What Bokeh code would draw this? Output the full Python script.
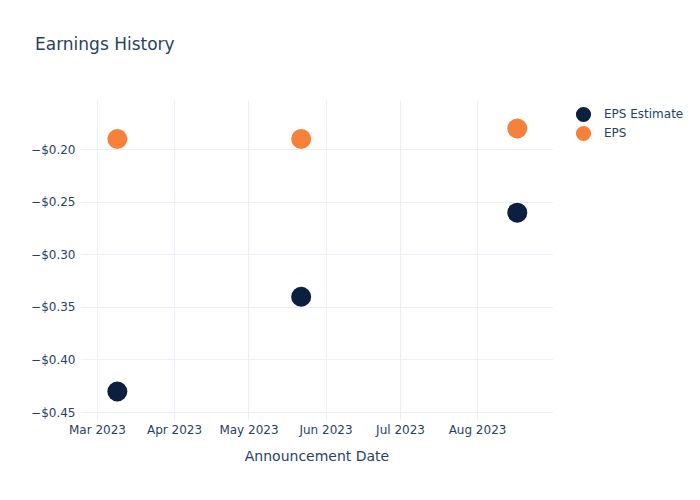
import pandas as pd
from bokeh.plotting import figure
from bokeh.layouts import row, column
from bokeh.models import (Range1d, DatetimeTickFormatter, MonthsTicker, FixedTicker, Div,
                          CustomJSTickFormatter, Legend, LegendItem, ColumnDataSource)
from bokeh.embed import file_html
from bokeh.resources import INLINE

# ---- data ----
dates = ["2023-03-09", "2023-05-22", "2023-08-17"]
eps_estimate = [-0.43, -0.34, -0.26]
eps_actual = [-0.19, -0.19, -0.18]
y_ticks = [-0.45, -0.40, -0.35, -0.30, -0.25, -0.20]
series_names = ["EPS Estimate", "EPS"]
title_text = "Earnings History"
x_label = "Announcement Date"

TEXT = "#2a3f5f"
GRID = "#ebf0f8"
NAVY = "#0d1f3e"
ORANGE = "#f7813a"
FONT = "DejaVu Sans"

x = pd.to_datetime(dates)
src = ColumnDataSource(dict(x=x, est=eps_estimate, act=eps_actual))

p = figure(width=553, height=430, output_backend="svg", toolbar_location=None,
           x_axis_type="datetime",
           x_range=Range1d(pd.Timestamp("2023-02-22 04:00"), pd.Timestamp("2023-08-31 14:00")),
           y_range=Range1d(-0.4576, -0.1534),
           min_border_left=80, min_border_right=0, min_border_top=30, min_border_bottom=80)
p.outline_line_color = None
p.background_fill_color = "white"
p.border_fill_color = "white"

r1 = p.scatter("x", "est", source=src, size=20, color=NAVY, line_color=None)
r2 = p.scatter("x", "act", source=src, size=20, color=ORANGE, line_color=None)

# axes
p.xaxis.ticker = MonthsTicker(months=list(range(12)))
p.xaxis.formatter = DatetimeTickFormatter(months="%b %Y", days="%b %Y")
p.yaxis.ticker = FixedTicker(ticks=y_ticks)
p.yaxis.formatter = CustomJSTickFormatter(code="""
    return (tick < 0 ? "\\u2212" : "") + "$" + Math.abs(tick).toFixed(2);
""")
for ax in (p.xaxis[0], p.yaxis[0]):
    ax.axis_line_color = None
    ax.major_tick_line_color = None
    ax.minor_tick_line_color = None
    ax.major_tick_out = 0
    ax.major_tick_in = 0
    ax.minor_tick_out = 0
    ax.major_label_text_font = FONT
    ax.major_label_text_font_size = "12px"
    ax.major_label_text_color = TEXT
    ax.axis_label_text_font = FONT
    ax.axis_label_text_color = TEXT
p.xaxis.major_label_standoff = 2
p.yaxis.major_label_standoff = 5
p.xaxis.axis_label = x_label
p.xaxis.axis_label_text_font_size = "14px"
p.xaxis.axis_label_text_font_style = "normal"
p.xaxis.axis_label_standoff = 8

p.xgrid.grid_line_color = GRID
p.ygrid.grid_line_color = GRID
p.xgrid.grid_line_width = 1
p.ygrid.grid_line_width = 1

# legend panel (separate figure on the right); its ranges keep the proxy points out of view
lf = figure(width=147, height=430, output_backend="svg", toolbar_location=None,
            x_range=Range1d(0, 1), y_range=Range1d(0, 1),
            x_axis_location=None, y_axis_location=None,
            min_border_left=0, min_border_right=0, min_border_top=30, min_border_bottom=80)
lf.outline_line_color = None
lf.xgrid.visible = False
lf.ygrid.visible = False
l1 = lf.scatter("x", "est", source=src, size=20, color=NAVY, line_color=None)
l2 = lf.scatter("x", "act", source=src, size=20, color=ORANGE, line_color=None)

common = dict(orientation="vertical", glyph_width=38, glyph_height=38, label_standoff=2,
              padding=0, margin=0, border_line_alpha=0, background_fill_alpha=0,
              label_text_font=FONT, label_text_font_size="12px", label_text_color=TEXT)
leg1 = Legend(items=[LegendItem(label=series_names[0], renderers=[l1])],
              location=(11, 287), **common)
leg2 = Legend(items=[LegendItem(label=series_names[1], renderers=[l2])],
              location=(11, 268), **common)
lf.add_layout(leg1, "center")
lf.add_layout(leg2, "center")

# title
title = Div(text=title_text, width=700, height=70, margin=(0, 0, 0, 0),
            styles={"font-family": FONT, "font-size": "17px", "color": TEXT,
                    "padding-left": "35px", "padding-top": "34px", "line-height": "20px",
                    "white-space": "nowrap", "box-sizing": "border-box"})

layout = column(title, row(p, lf, spacing=0), spacing=0)
open("out.html", "w").write(file_html(layout, INLINE))
